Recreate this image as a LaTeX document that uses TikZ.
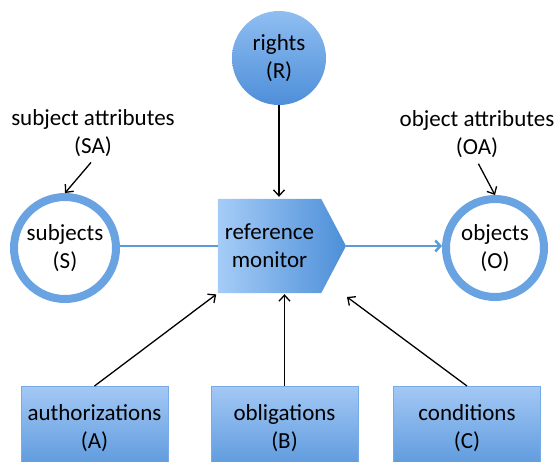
\documentclass[tikz,border=0pt]{standalone}
\usepackage{fontspec}
\setmainfont{Carlito}
\usetikzlibrary{arrows.meta,backgrounds}

\definecolor{balltop}{RGB}{143,190,241}
\definecolor{ballbot}{RGB}{78,143,217}
\definecolor{monleft}{RGB}{165,204,247}
\definecolor{monright}{RGB}{77,143,216}
\definecolor{boxtop}{RGB}{163,200,245}
\definecolor{boxbot}{RGB}{90,152,220}
\definecolor{boxline}{RGB}{120,170,230}
\definecolor{ringblue}{RGB}{105,163,226}
\definecolor{linkblue}{RGB}{91,155,213}

\tikzset{
  ball/.style={circle,top color=balltop,bottom color=ballbot,align=center,inner sep=0pt},
  ring/.style={circle,draw=ringblue,line width=8pt,fill=white,align=center,inner sep=0pt},
  gatebox/.style={rectangle,top color=boxtop,bottom color=boxbot,draw=boxline,line width=0.6pt,
    minimum width=147,minimum height=84,align=center,anchor=north},
  arr/.style={draw=black,line width=1.3pt,-{Straight Barb[length=6pt,width=11pt]}},
  bline/.style={draw=linkblue,line width=2.5pt}
}

\begin{document}
\begin{tikzpicture}[x=1pt,y=-1pt,font=\fontsize{23}{28}\selectfont]
    \clip (0,0) rectangle (560,461);
    % top and sides
    \node[ball,minimum size=94] (rights) at (279,58) {rights\\(R)};
    \node[ring,minimum size=102] (subj) at (65,248) {subjects\\(S)};
    \node[ring,minimum size=98] (obj) at (495,248) {objects\\(O)};
    \node[align=center] (sa) at (93,133) {subject attributes\\(SA)};
    \node[align=center] (oa) at (477,134) {object attributes\\(OA)};
    % monitor
    \node[inner sep=0pt,minimum width=103,minimum height=94,align=center] (mon) at (269.5,246) {reference\\monitor};
    \coordinate (montip) at (346,246);
    \begin{scope}[on background layer]
        \shade[left color=monleft,right color=monright] (mon.north west) -- (mon.north east) -- (montip)
            -- (mon.south east) -- (mon.south west) -- cycle;
    \end{scope}
    % bottom row
    \node[gatebox] (auth) at (94.5,386) {authorizations\\(A)};
    \node[gatebox] (obl) at (284.5,386) {obligations\\(B)};
    \node[gatebox] (cond) at (467,386) {conditions\\(C)};
    \coordinate (condend) at (347,297);
    % connectors
    \draw[bline] (mon.west -| subj.east) -- (mon.west);
    \draw[bline,-{Straight Barb[length=5pt,width=11pt]}] (montip) -- (montip -| obj.west);
    \draw[arr,shorten >=2pt] (rights.south) -- (rights.south |- mon.north);
    \draw[arr,shorten <=3pt] (sa.south) -- (subj.north);
    \draw[arr,shorten <=3pt] (oa.south) -- (obj.north);
    \draw[arr,shorten >=2pt] (auth.north) -- (mon.south west);
    \draw[arr,shorten >=1pt] (obl.north) -- (obl.north |- mon.south);
    \draw[arr] (cond.north) -- (condend);
\end{tikzpicture}
\end{document}
